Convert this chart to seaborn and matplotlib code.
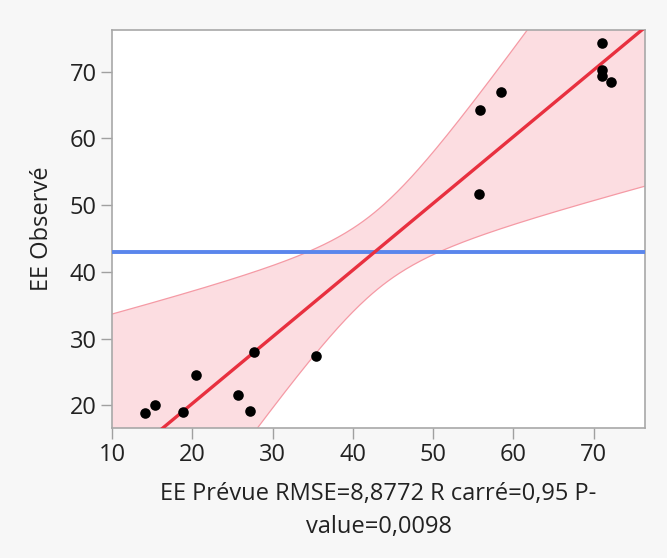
import numpy as np
import matplotlib
matplotlib.use("Agg")
import matplotlib.pyplot as plt
import seaborn as sns

# values
ee_prevue = [14.1, 15.4, 18.8, 20.4, 25.7, 27.2, 27.7, 35.4,
             55.7, 55.8, 58.5, 71.0, 71.0, 71.0, 72.2]
ee_observe = [18.8, 20.0, 19.0, 24.6, 21.6, 19.1, 28.0, 27.4,
              51.6, 64.3, 67.0, 74.2, 70.3, 69.3, 68.4]
mean_observe = 42.9
# confidence curve: half-width^2 = band_a + band_b * (x - mean)^2
band_a = 35.2
band_b = 0.473

x_ticks = [10, 20, 30, 40, 50, 60, 70]
y_ticks = [20, 30, 40, 50, 60, 70]
x_label = "EE Prévue RMSE=8,8772 R carré=0,95 P-\nvalue=0,0098"
y_label = "EE Observé"

sns.set_style("white")
plt.rcParams["font.family"] = ["Open Sans", "DejaVu Sans"]
fs = 17

fig = plt.figure(figsize=(6.67, 5.58), dpi=100, facecolor="#f7f7f7")
ax = fig.add_axes([0.168, 0.233, 0.799, 0.713])
ax.set_facecolor("white")
ax.set_xlim(10, 76.4)
ax.set_ylim(16.6, 76.2)

xs = np.linspace(10, 76.4, 300)
slope, intercept = np.polyfit(ee_prevue, ee_observe, 1)
center = intercept + slope * xs
hw = np.sqrt(band_a + band_b * (xs - mean_observe) ** 2)
ax.fill_between(xs, center - hw, center + hw, color="#fcdde1", lw=0, zorder=1)
ax.plot(xs, center + hw, color="#f59aa5", lw=0.9, zorder=2)
ax.plot(xs, center - hw, color="#f59aa5", lw=0.9, zorder=2)

ax.axhline(mean_observe, color="#5a86ec", lw=2.8, zorder=3)

sns.regplot(x=ee_prevue, y=ee_observe, ax=ax, ci=None, truncate=False,
            scatter_kws=dict(s=58, color="black", alpha=1, zorder=5, linewidths=0),
            line_kws=dict(color="#e8303f", lw=2.4, zorder=4))

ax.set_xlim(10, 76.4)
ax.set_ylim(16.6, 76.2)
ax.set_xticks(x_ticks)
ax.set_yticks(y_ticks)
ax.tick_params(direction="out", length=8, width=1, color="#a0a0a0",
               labelsize=fs, labelcolor="#222222", pad=3,
               bottom=True, left=True)
for sp in ax.spines.values():
    sp.set_color("#a8a8a8")
    sp.set_linewidth(1.2)

ax.set_xlabel(x_label, fontsize=fs, color="#222222", linespacing=1.5)
ax.set_ylabel(y_label, fontsize=fs, color="#222222")
ax.xaxis.set_label_coords(0.5, -0.135)
ax.yaxis.set_label_coords(-0.108, 0.5)

fig.savefig("out.png", dpi=100, facecolor=fig.get_facecolor())
